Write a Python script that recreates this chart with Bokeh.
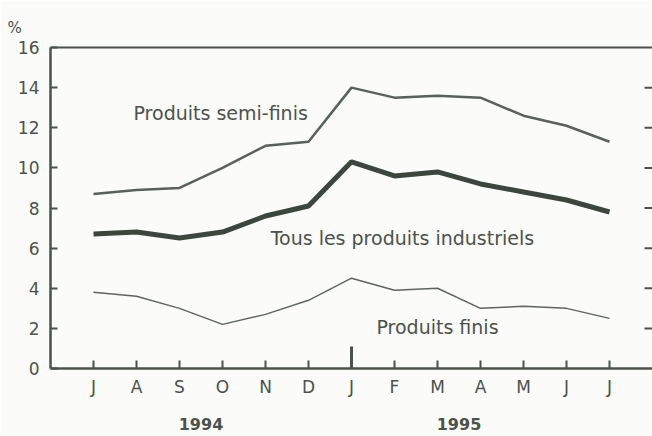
from bokeh.plotting import figure
from bokeh.models import Range1d, LinearAxis, FixedTicker, Label
from bokeh.embed import file_html
from bokeh.resources import INLINE

months = ["J", "A", "S", "O", "N", "D", "J", "F", "M", "A", "M", "J", "J"]
years = ["1994", "1995"]
semi_finis = [8.7, 8.9, 9.0, 10.0, 11.1, 11.3, 14.0, 13.5, 13.6, 13.5, 12.6, 12.1, 11.3]
tous = [6.7, 6.8, 6.5, 6.8, 7.6, 8.1, 10.3, 9.6, 9.8, 9.2, 8.8, 8.4, 7.8]
finis = [3.8, 3.6, 3.0, 2.2, 2.7, 3.4, 4.5, 3.9, 4.0, 3.0, 3.1, 3.0, 2.5]
y_ticks = [0, 2, 4, 6, 8, 10, 12, 14, 16]

FONT = "DejaVu Sans"
INK = "#4a524a"
x = list(range(len(months)))

X0, X1 = -1, 13
Y0, Y1 = 0, 16
W, H = 652, 436
BL, BR, BT, BB = 50, 0, 47, 68
px_per_x = (W - BL - BR) / (X1 - X0)

p = figure(width=W, height=H, output_backend="svg", toolbar_location=None,
           x_range=Range1d(X0, X1), y_range=Range1d(Y0, Y1),
           min_border_left=BL, min_border_right=BR, min_border_top=BT, min_border_bottom=BB,
           background_fill_color="#fbfbfa", border_fill_color="#fbfbfa",
           x_axis_type=None, y_axis_type=None)
p.outline_line_color = None
p.grid.visible = False

# "%" unit label as the title, pushed left over the y-axis labels
p.title.text = "%"
p.title.align = "left"
p.title.offset = -43
p.title.text_font = FONT
p.title.text_font_size = "15px"
p.title.text_font_style = "normal"
p.title.text_color = INK
p.title.standoff = 22

# left axis
ya = LinearAxis(ticker=FixedTicker(ticks=y_ticks))
ya.major_tick_in = 7
ya.major_tick_out = 0
ya.minor_tick_line_color = None
ya.axis_line_width = 2.5
ya.axis_line_color = INK
ya.major_tick_line_color = INK
ya.major_tick_line_width = 2
ya.major_label_text_font = FONT
ya.major_label_text_font_size = "17px"
ya.major_label_text_color = INK
ya.major_label_standoff = 11
p.add_layout(ya, "left")

# top line
ta = LinearAxis(ticker=FixedTicker(ticks=[]))
ta.major_tick_line_color = None
ta.minor_tick_line_color = None
ta.axis_line_color = INK
ta.axis_line_width = 2
ta.major_label_standoff = 0
p.add_layout(ta, "above")

# bottom month axis
xa = LinearAxis(ticker=FixedTicker(ticks=x))
xa.major_label_overrides = {i: m for i, m in enumerate(months)}
xa.major_tick_in = 8
xa.major_tick_out = 0
xa.minor_tick_line_color = None
xa.axis_line_width = 2.5
xa.axis_line_color = INK
xa.major_tick_line_color = INK
xa.major_tick_line_width = 2
xa.major_label_text_font = FONT
xa.major_label_text_font_size = "17px"
xa.major_label_text_color = INK
xa.major_label_standoff = 8
p.add_layout(xa, "below")

# year axis
year_pos = [2.5, 8.5]
ya2 = LinearAxis(ticker=FixedTicker(ticks=year_pos))
ya2.major_label_overrides = {year_pos[i]: y for i, y in enumerate(years)}
ya2.major_tick_line_color = None
ya2.minor_tick_line_color = None
ya2.axis_line_color = None
ya2.major_label_text_font = FONT
ya2.major_label_text_font_size = "16px"
ya2.major_label_text_font_style = "bold"
ya2.major_label_text_color = INK
ya2.major_label_standoff = 12
p.add_layout(ya2, "below")

# year separator tick
p.segment(x0=[6], y0=[0], x1=[6], y1=[1.1], line_color=INK, line_width=3)

# right-side inward ticks
rt = y_ticks[1:-1]
tick_len = 8 / px_per_x
p.segment(x0=[X1 - tick_len] * len(rt), y0=rt, x1=[X1] * len(rt), y1=rt,
          line_color=INK, line_width=2)

p.line(x, semi_finis, line_color="#56625a", line_width=2.5)
p.line(x, tous, line_color="#3b463d", line_width=5)
p.line(x, finis, line_color="#5c665e", line_width=1.4)

for txt, lx, ly in [("Produits semi-finis", 0.93, 12.75),
                    ("Tous les produits industriels", 4.12, 6.5),
                    ("Produits finis", 6.58, 2.05)]:
    p.add_layout(Label(x=lx, y=ly, text=txt, text_font=FONT, text_font_size="19px",
                       text_color=INK, text_baseline="middle", text_align="left"))

open("out.html", "w").write(file_html(p, INLINE))
